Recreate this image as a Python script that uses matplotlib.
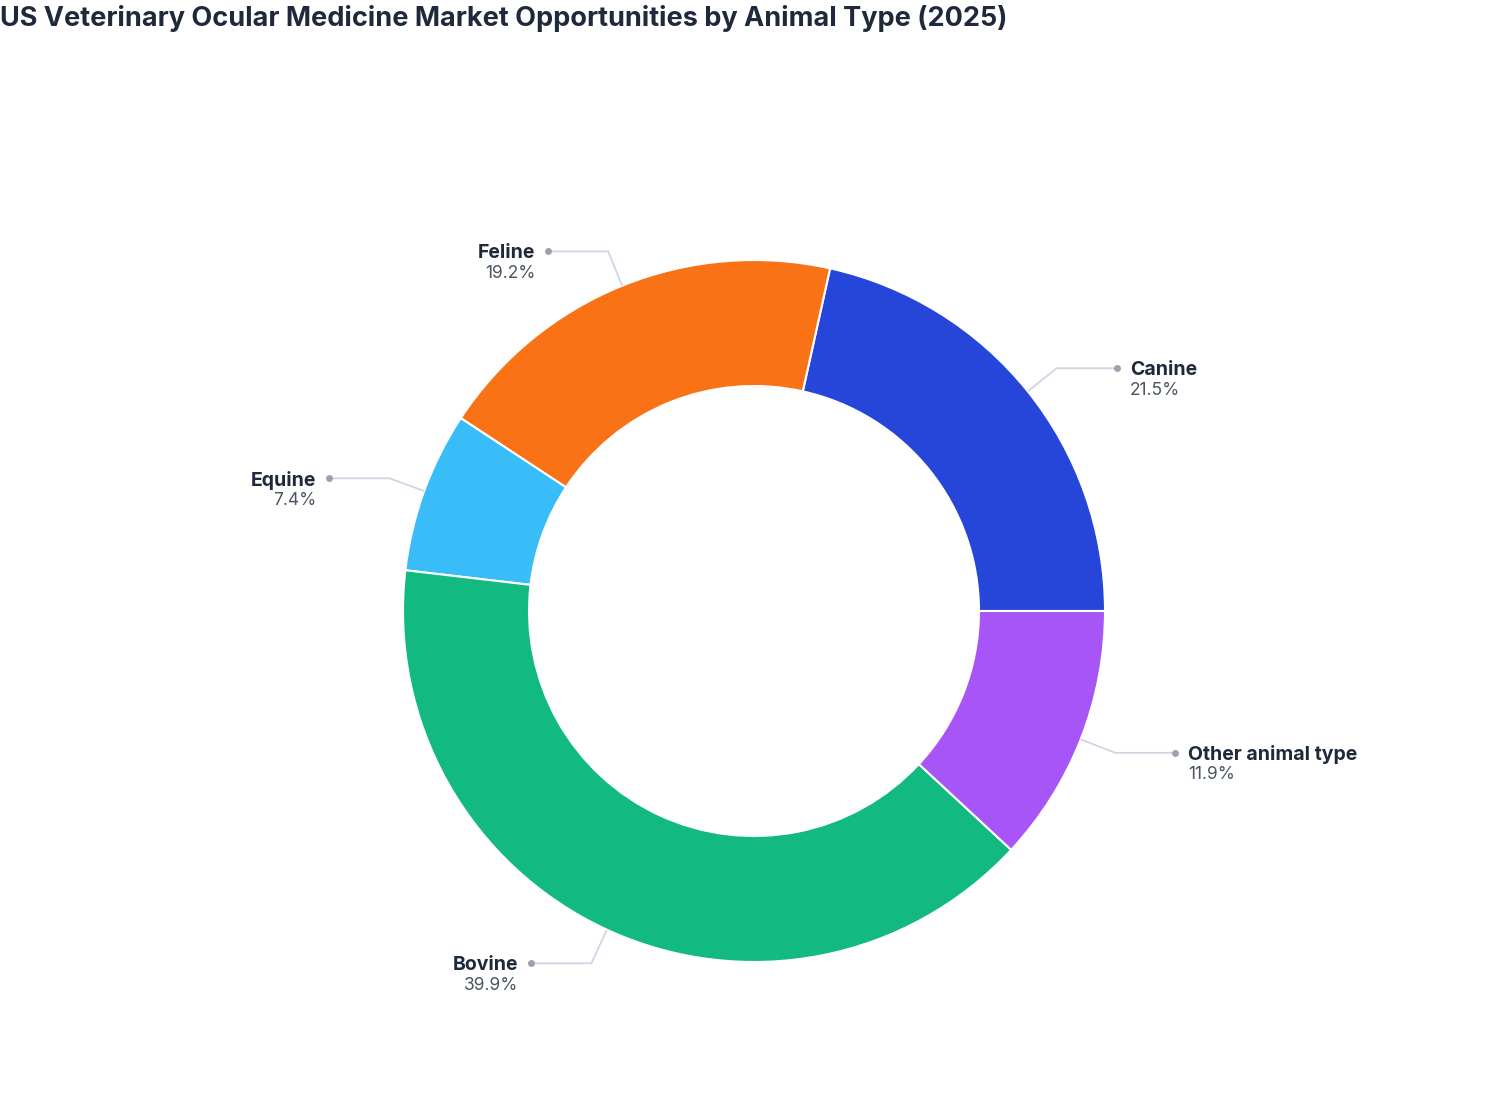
import numpy as np
import matplotlib.pyplot as plt

plt.rcParams['font.family'] = ['Inter', 'DejaVu Sans']

# data
animals = ['Canine', 'Feline', 'Equine', 'Bovine', 'Other animal type']
shares = [21.5, 19.2, 7.4, 39.9, 11.9]
colors = ['#2645d9', '#f97316', '#38bdf8', '#12b981', '#a855f7']
title = 'US Veterinary Ocular Medicine Market Opportunities by Animal Type (2025)'

W, H = 1508, 1120
fig = plt.figure(figsize=(W / 100, H / 100), dpi=100)
ax = fig.add_axes([0, 0, 1, 1])

cx, cy = 754, H - 611
R, r_in = 351, 225

wedges, _ = ax.pie(shares, colors=colors, startangle=0, counterclock=True,
                   center=(cx, cy), radius=R,
                   wedgeprops=dict(width=R - r_in, edgecolor='white', linewidth=1.5))

ax.set_xlim(0, W)
ax.set_ylim(0, H)
ax.set_aspect('equal')
ax.axis('off')

# leader lines + labels
for w, name, val in zip(wedges, animals, shares):
    mid = np.deg2rad((w.theta1 + w.theta2) / 2)
    x0, y0 = cx + (R + 1) * np.cos(mid), cy + (R + 1) * np.sin(mid)
    x1, y1 = cx + 388 * np.cos(mid), cy + 388 * np.sin(mid)
    side = 1 if np.cos(mid) >= 0 else -1
    x2 = x1 + side * 60
    ax.plot([x0, x1, x2], [y0, y1, y1], color='#cfd6e3', lw=1.3, zorder=1)
    ax.plot([x2], [y1], 'o', color='#9ca3af', ms=4, zorder=2)
    ha = 'left' if side > 0 else 'right'
    tx = x2 + side * 13
    ax.text(tx, y1 - 2, name, ha=ha, va='center', fontsize=14, fontweight='bold',
            color='#1e293b')
    ax.text(tx, y1 - 22, f'{val}%', ha=ha, va='center', fontsize=12.5,
            color='#4b5563')

fig.text(0, 1 - 18 / H, title, ha='left', va='center', fontsize=19.5,
         fontweight='bold', color='#1e293b')

fig.savefig('out.png', dpi=100, facecolor='white')
